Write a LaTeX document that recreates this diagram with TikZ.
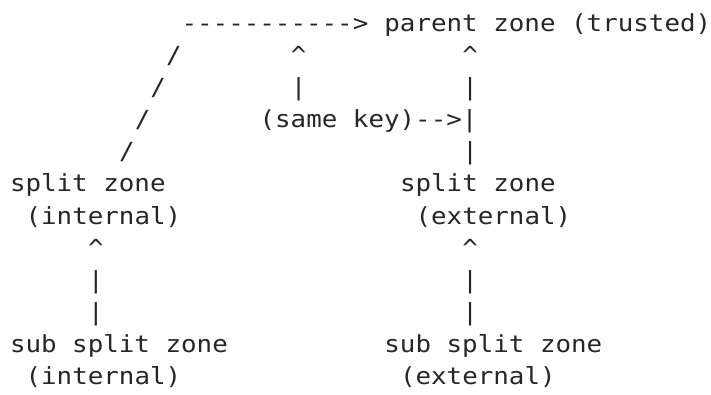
\documentclass[tikz,border=0pt]{standalone}
\usepackage{fontspec}
\newfontfamily\asciifont[FakeStretch=1.10]{DejaVu Sans Mono}
\definecolor{ink}{HTML}{262626}
\begin{document}
\begin{tikzpicture}[x=1pt,y=-1pt,
  txt/.style={anchor=base west,inner sep=0pt,outer sep=0pt,text=ink,
    font=\asciifont\fontsize{23.5}{32}\selectfont}]
\useasboundingbox (0,0) rectangle (711,395);
\def\xo{10}\def\cw{15.6}\def\yo{32}\def\lh{32}
% line 0
\node[txt] (toparrow) at (\xo+11*\cw,\yo+0*\lh) {----------->};
\node[txt] (parent)   at (\xo+24*\cw,\yo+0*\lh) {parent zone (trusted)};
% line 1
\node[txt] (sl1)  at (\xo+10*\cw,\yo+1*\lh) {/};
\node[txt] (mup)  at (\xo+18*\cw,\yo+1*\lh) {\^{}};
\node[txt] (rup)  at (\xo+29*\cw,\yo+1*\lh) {\^{}};
% line 2
\node[txt] (sl2)  at (\xo+9*\cw,\yo+2*\lh) {/};
\node[txt] (mbar) at (\xo+18*\cw,\yo+2*\lh) {|};
\node[txt] (rbar1) at (\xo+29*\cw,\yo+2*\lh) {|};
% line 3
\node[txt] (sl3)  at (\xo+8*\cw,\yo+3*\lh) {/};
\node[txt] (samekey) at (\xo+16*\cw,\yo+3*\lh) {(same key)-{}->|};
% line 4
\node[txt] (sl4)  at (\xo+7*\cw,\yo+4*\lh) {/};
\node[txt] (rbar2) at (\xo+29*\cw,\yo+4*\lh) {|};
% line 5-6
\node[txt] (siname) at (\xo+0*\cw,\yo+5*\lh) {split zone};
\node[txt] (sename) at (\xo+25*\cw,\yo+5*\lh) {split zone};
\node[txt] (siint)  at (\xo+1*\cw,\yo+6*\lh) {(internal)};
\node[txt] (seext)  at (\xo+26*\cw,\yo+6*\lh) {(external)};
% line 7-9
\node[txt] (lup)   at (\xo+5*\cw,\yo+7*\lh) {\^{}};
\node[txt] (rup2)  at (\xo+29*\cw,\yo+7*\lh) {\^{}};
\node[txt] (lbar1) at (\xo+5*\cw,\yo+8*\lh) {|};
\node[txt] (rbar3) at (\xo+29*\cw,\yo+8*\lh) {|};
\node[txt] (lbar2) at (\xo+5*\cw,\yo+9*\lh) {|};
\node[txt] (rbar4) at (\xo+29*\cw,\yo+9*\lh) {|};
% line 10-11
\node[txt] (ssiname) at (\xo+0*\cw,\yo+10*\lh) {sub split zone};
\node[txt] (ssename) at (\xo+24*\cw,\yo+10*\lh) {sub split zone};
\node[txt] (ssiint)  at (\xo+1*\cw,\yo+11*\lh) {(internal)};
\node[txt] (sseext)  at (\xo+25*\cw,\yo+11*\lh) {(external)};
\end{tikzpicture}
\end{document}
